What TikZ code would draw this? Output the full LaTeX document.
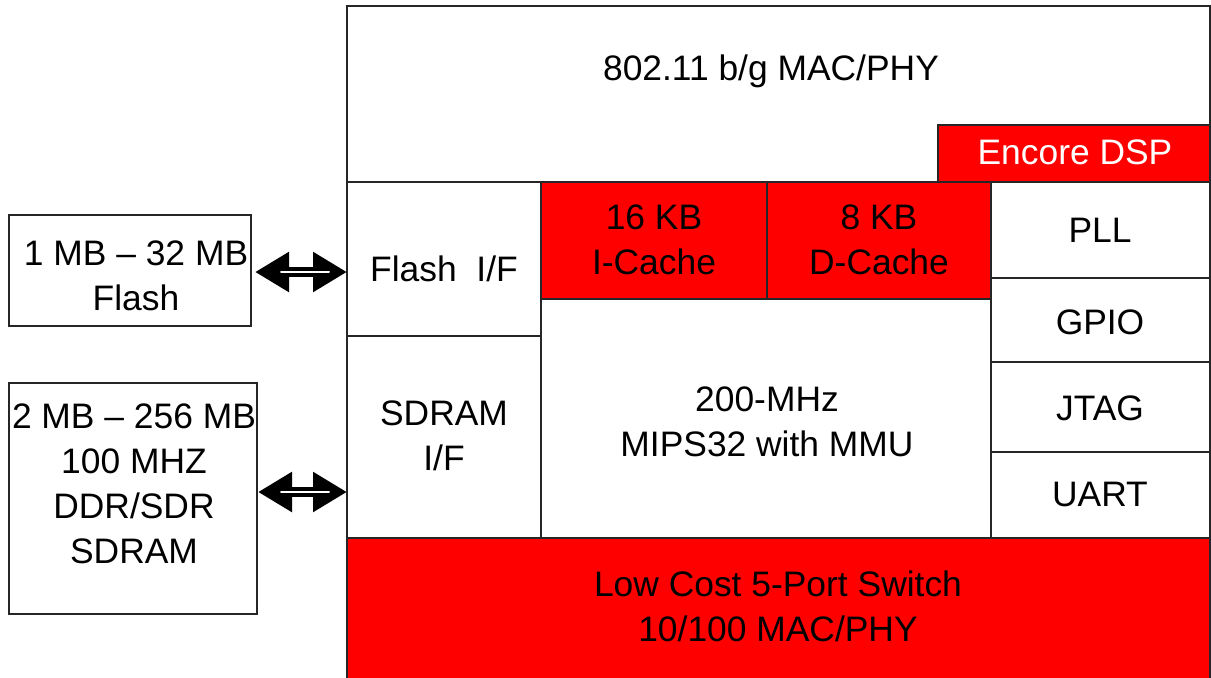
\documentclass[tikz,border=0pt]{standalone}
\usepackage{fontspec}
\setmainfont{Liberation Sans}
\usetikzlibrary{fit,arrows.meta}
\begin{document}
\begin{tikzpicture}[x=0.5pt,y=-0.5pt,
  blk/.style={draw=black!85, line width=0.75pt, inner sep=0pt, fill=white},
  redblk/.style={blk, fill=red},
  lbl/.style={align=center, inner sep=0pt, font=\fontsize{17.7}{22.5}\selectfont},
  biarrow/.style={line width=5pt, {Triangle[length=17pt,width=19pt]}-{Triangle[length=17pt,width=19pt]}},
  core/.style={white, line width=1pt, line cap=round}]
\useasboundingbox (0,0) rectangle (1211,677);
% chip blocks
\node[blk, fit={(347,6)(1210,182)}] (mac) {};
\node[redblk, fit={(938,125)(1210,182)}] (dsp) {};
\node[blk, fit={(347,182)(541,336)}] (flashif) {};
\node[blk, fit={(347,336)(541,538)}] (sdramif) {};
\node[redblk, fit={(541,182)(767,299)}] (icache) {};
\node[redblk, fit={(767,182)(991,299)}] (dcache) {};
\node[blk, fit={(541,299)(991,538)}] (mips) {};
\node[blk, fit={(991,182)(1210,278)}] (pll) {};
\node[blk, fit={(991,278)(1210,362)}] (gpio) {};
\node[blk, fit={(991,362)(1210,452)}] (jtag) {};
\node[blk, fit={(991,452)(1210,538)}] (uart) {};
\node[redblk, fit={(347,538)(1210,690)}] (switch) {};
% external memories
\node[blk, fit={(9,215)(251,326)}] (flash) {};
\node[blk, fit={(9,383)(257,614)}] (sdram) {};
% labels
\node[lbl] (macT) at (771,71) {802.11 b/g MAC/PHY};
\node[lbl, text=white] (dspT) at (1075,152) {Encore DSP};
\node[lbl] (flashifT) at (444,269) {Flash~~I/F};
\node[lbl] (sdramifT) at (444,436) {SDRAM\\I/F};
\node[lbl] (icacheT) at (654,240) {16 KB\\I-Cache};
\node[lbl] (dcacheT) at (879,240) {8 KB\\D-Cache};
\node[lbl] (mipsT) at (767,422) {200-MHz\\MIPS32 with MMU};
\node[lbl] (pllT) at (1100,230) {PLL};
\node[lbl] (gpioT) at (1100,322) {GPIO};
\node[lbl] (jtagT) at (1100,408) {JTAG};
\node[lbl] (uartT) at (1100,494) {UART};
\node[lbl] (switchT) at (778,606) {Low Cost 5-Port Switch\\10/100 MAC/PHY};
\node[lbl] (flashT) at (136,276) {1 MB -- 32 MB\\Flash};
\node[lbl] (sdramT) at (134,484) {2 MB -- 256 MB\\100 MHZ\\DDR/SDR\\SDRAM};
% connectors
\coordinate (fa) at (255,272);
\coordinate (fb) at (347,272);
\coordinate (sa) at (258,492);
\coordinate (sb) at (347,492);
\draw[biarrow] (fa) -- (fb);
\draw[core, shorten <=13pt, shorten >=9pt] (fa) -- (fb);
\draw[biarrow] (sa) -- (sb);
\draw[core, shorten <=11.5pt, shorten >=9pt] (sa) -- (sb);
\end{tikzpicture}
\end{document}
